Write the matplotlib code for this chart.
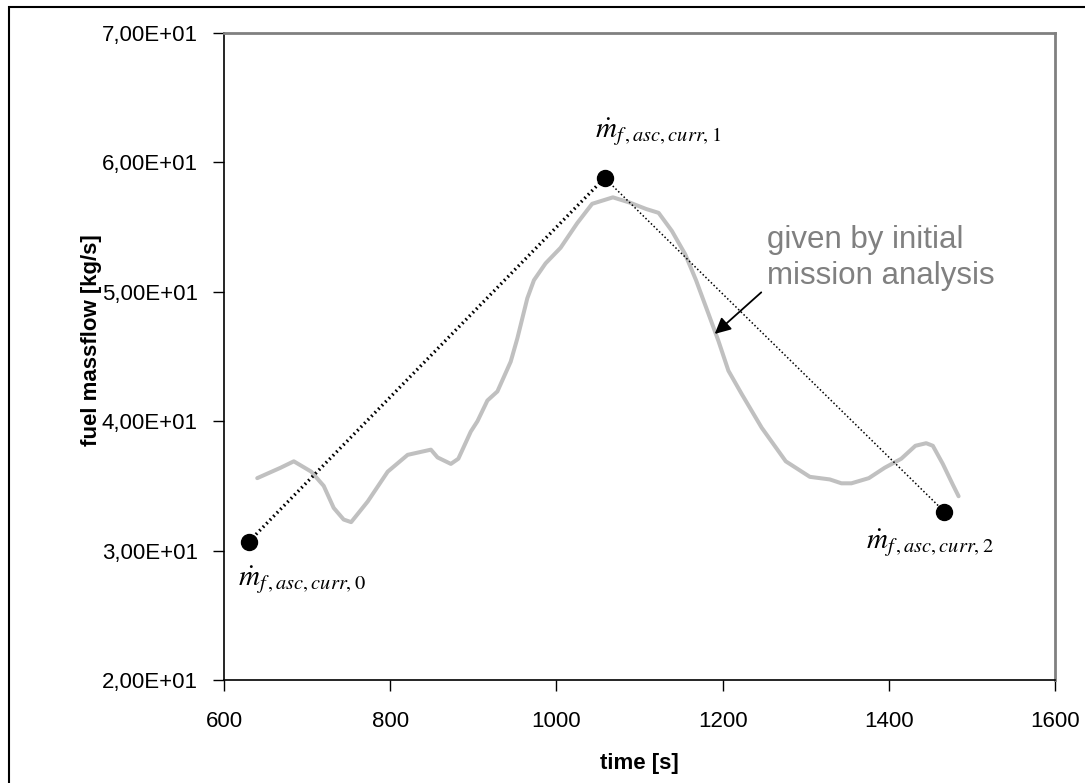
import matplotlib
matplotlib.use("Agg")
import matplotlib.pyplot as plt
from matplotlib.ticker import FuncFormatter
from matplotlib.patches import Rectangle

# Gray curve: "given by initial mission analysis"
time_s = [640, 668, 684, 705, 720, 732, 744, 753, 773, 797, 821, 849, 857, 873, 882,
          897, 905, 917, 929, 945, 953, 965, 973, 987, 1005, 1025, 1043, 1068, 1088,
          1108, 1123, 1139, 1155, 1168, 1183, 1195, 1207, 1223, 1247, 1276, 1305,
          1329, 1343, 1355, 1376, 1395, 1415, 1432, 1445, 1453, 1465, 1477, 1484]
massflow = [35.6, 36.4, 36.9, 36.1, 35.0, 33.3, 32.4, 32.2, 33.8, 36.1, 37.4, 37.8, 37.2,
            36.7, 37.1, 39.2, 40.0, 41.6, 42.3, 44.6, 46.4, 49.5, 50.9, 52.2, 53.4, 55.3,
            56.8, 57.3, 56.9, 56.4, 56.1, 54.7, 52.9, 50.9, 48.3, 46.2, 43.9, 42.1, 39.5,
            36.9, 35.7, 35.5, 35.2, 35.2, 35.6, 36.4, 37.1, 38.1, 38.3, 38.1, 36.7, 35.1,
            34.2]

# Linearized points
pt_time = [630, 1058, 1467]
pt_flow = [30.7, 58.8, 33.0]
pt_labels = [r"$\dot{m}_{f\,,asc,curr,0}$", r"$\dot{m}_{f\,,asc,curr,1}$",
             r"$\dot{m}_{f\,,asc,curr,2}$"]

x_ticks = [600, 800, 1000, 1200, 1400, 1600]
y_ticks = [20, 30, 40, 50, 60, 70]

plt.rcParams['font.family'] = ['Liberation Sans', 'DejaVu Sans']
plt.rcParams['mathtext.fontset'] = 'stix'

fig = plt.figure(figsize=(10.85, 7.83), dpi=100)
ax = fig.add_axes([224/1085, 1 - 680/783, (1055-224)/1085, (680-33)/783])

ax.plot(time_s, massflow, color='#c0c0c0', lw=2.9, solid_capstyle='round',
        solid_joinstyle='round', zorder=2)
ax.plot(pt_time[:2], pt_flow[:2], color='black', lw=2.4, ls=(0, (0.5, 1.0)), zorder=3)
ax.plot(pt_time[1:], pt_flow[1:], color='black', lw=1.1, ls=(0, (1, 1.5)), zorder=3)
ax.plot(pt_time, pt_flow, 'o', color='black', ms=11.5, zorder=4)

ax.text(pt_time[0] - 13, pt_flow[0] - 3.45, pt_labels[0], fontsize=21, ha='left', va='baseline')
ax.text(pt_time[1] - 11, pt_flow[1] + 3.05, pt_labels[1], fontsize=21, ha='left', va='baseline')
ax.text(pt_time[2] - 94, pt_flow[2] - 2.9, pt_labels[2], fontsize=21, ha='left', va='baseline')

ax.annotate("", xy=(1188, 46.6), xytext=(1249, 50.1),
            arrowprops=dict(arrowstyle='-|>', color='black', lw=1.3, mutation_scale=24))
ax.text(1254, 53.4, "given by initial", color='#808080', fontsize=22.5,
        ha='left', va='baseline')
ax.text(1254, 50.6, "mission analysis", color='#808080', fontsize=22.5,
        ha='left', va='baseline')

ax.set_xlim(600, 1600)
ax.set_ylim(20, 70)
ax.set_xticks(x_ticks)
ax.set_yticks(y_ticks)
ax.yaxis.set_major_formatter(FuncFormatter(lambda v, p: f"{v:.2E}".replace('.', ',')))
ax.tick_params(direction='out', length=8, width=1, labelsize=16, colors='black')
ax.tick_params(axis='y', pad=11)
ax.tick_params(axis='x', pad=14)

for s in ['left', 'bottom']:
    ax.spines[s].set_color('black')
    ax.spines[s].set_linewidth(1.2)
for s in ['top', 'right']:
    ax.spines[s].set_color('#808080')
    ax.spines[s].set_linewidth(2)

ax.set_xlabel("time [s]", fontsize=16, fontweight='bold', va='center')
ax.xaxis.set_label_coords(0.5, (680 - 763) / 647)
ax.set_ylabel("fuel massflow [kg/s]", fontsize=16, fontweight='bold', va='center')
ax.yaxis.set_label_coords((92 - 224) / 831, (680 - 340) / 647)

# outer frame
fig.patches.append(Rectangle((9/1085, -0.05), 1.2, 1 - 7/783 + 0.05, transform=fig.transFigure,
                             fill=False, edgecolor='black', lw=1.5, zorder=0))

fig.savefig("out.png", dpi=100)
